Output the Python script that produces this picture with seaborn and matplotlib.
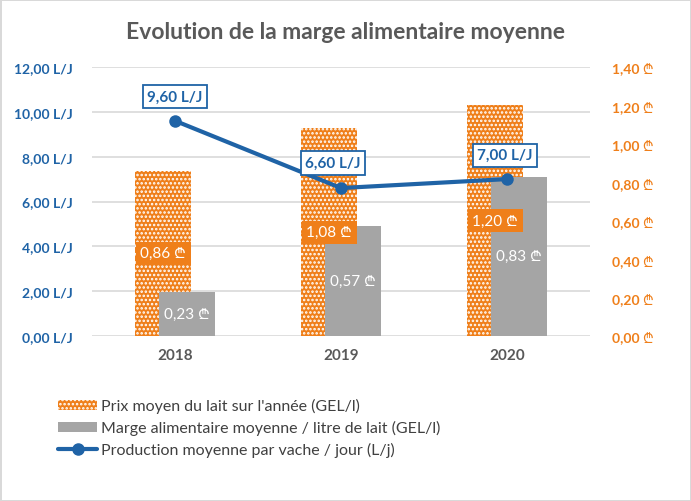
import numpy as np
import pandas as pd
import seaborn as sns
import matplotlib.pyplot as plt
from matplotlib.patches import Patch
from matplotlib.lines import Line2D

# Data
years = [2018, 2019, 2020]
prix_lait = [0.86, 1.08, 1.20]          # GEL/l, right axis
marge = [0.23, 0.57, 0.83]              # GEL/l, right axis
production = [9.60, 6.60, 7.00]         # L/j, left axis
left_ticks = [0, 2, 4, 6, 8, 10, 12]
right_ticks = [0.0, 0.2, 0.4, 0.6, 0.8, 1.0, 1.2, 1.4]

ORANGE = "#EF7F1A"
GRAY = "#A5A5A5"
BLUE = "#1F63A6"
TEXT = "#595959"

sns.set_theme(style="white")
plt.rcParams["font.family"] = ["Lato", "Noto Sans", "DejaVu Sans", "Roboto",
                               "Open Sans", "Liberation Sans", "Noto Sans CJK SC"]
plt.rcParams["hatch.linewidth"] = 1.2


def fr(v, unit):
    return f"{v:.2f}".replace(".", ",") + unit


shift = 0.072
df_prix = pd.DataFrame({"x": [y - shift for y in years], "v": prix_lait})
df_marge = pd.DataFrame({"x": [y + shift for y in years], "v": marge})
df_prod = pd.DataFrame({"x": years, "v": production})

fig = plt.figure(figsize=(6.91, 5.02), dpi=100)
fig.patch.set_edgecolor("#D9D9D9")
fig.patch.set_linewidth(2)

# base axis: left scale (L/J) with gridlines, no data
ax = fig.add_axes([92 / 691, 1 - 337 / 502, (590 - 92) / 691, (337 - 68) / 502])
ax.set_ylim(0, 12)
ax.set_xlim(years[0] - 0.5, years[-1] + 0.5)
ax.set_yticks(left_ticks)
ax.set_yticklabels([fr(t, " L/J") for t in left_ticks])
ax.set_xticks(years)
ax.set_xticklabels([str(y) for y in years])
ax.yaxis.grid(True, color="#D9D9D9", linewidth=1.2)
ax.tick_params(axis="x", colors=TEXT, labelsize=11, length=0, pad=9)
ax.tick_params(axis="y", colors=BLUE, labelsize=10, length=0, pad=14)
for lab in ax.get_xticklabels() + ax.get_yticklabels():
    lab.set_fontweight("bold")
for s in ax.spines.values():
    s.set_visible(False)

# bars on the secondary (right) axis
axb = ax.twinx()
sns.barplot(data=df_prix, x="x", y="v", native_scale=True, width=0.337,
            color=ORANGE, hatch="....", edgecolor="white", linewidth=0,
            saturation=1, ax=axb, zorder=2)
sns.barplot(data=df_marge, x="x", y="v", native_scale=True, width=0.337,
            color=GRAY, linewidth=0, saturation=1, ax=axb, zorder=3)
axb.set_ylim(0, 1.4)
axb.set_xlim(years[0] - 0.5, years[-1] + 0.5)
axb.set_yticks(right_ticks)
axb.set_yticklabels([fr(t, " ₾") for t in right_ticks])
axb.tick_params(axis="y", colors=ORANGE, labelsize=10, length=0, pad=16)
for lab in axb.get_yticklabels():
    lab.set_fontweight("bold")
axb.set_xlabel("")
axb.set_ylabel("")
for s in axb.spines.values():
    s.set_visible(False)

for x, v in zip(df_prix["x"], prix_lait):
    axb.text(x, v / 2, fr(v, " ₾"), ha="center", va="center", color="white",
             fontsize=11, zorder=5,
             bbox=dict(boxstyle="square,pad=0.3", fc=ORANGE, ec="none"))
for x, v in zip(df_marge["x"], marge):
    axb.text(x, v / 2, fr(v, " ₾"), ha="center", va="center", color="white",
             fontsize=11, zorder=5)

# line on the left scale, drawn on top
axl = ax.twinx()
sns.lineplot(data=df_prod, x="x", y="v", color=BLUE, linewidth=3, marker="o",
             markersize=9, markeredgewidth=0, ax=axl)
axl.set_ylim(0, 12)
axl.set_xlim(years[0] - 0.5, years[-1] + 0.5)
axl.set_yticks([])
axl.set_xlabel("")
axl.set_ylabel("")
for s in axl.spines.values():
    s.set_visible(False)

offsets = [(0, 24), (-8, 25), (-2, 24)]
for x, v, off in zip(years, production, offsets):
    axl.annotate(fr(v, " L/J"), (x, v), xytext=off, textcoords="offset pixels",
                 ha="center", va="center", color=BLUE, fontsize=11,
                 fontweight="bold",
                 bbox=dict(boxstyle="square,pad=0.3", fc="white", ec=BLUE, lw=1.3))

fig.text(346 / 691, 1 - 33 / 502, "Evolution de la marge alimentaire moyenne",
         ha="center", va="center", fontsize=16.5, fontweight="bold", color=TEXT)

handles = [
    Patch(facecolor=ORANGE, hatch="....", edgecolor="white", linewidth=0),
    Patch(facecolor=GRAY, linewidth=0),
    Line2D([], [], color=BLUE, linewidth=3, marker="o", markersize=8),
]
labels = [
    "Prix moyen du lait sur l'année (GEL/l)",
    "Marge alimentaire moyenne / litre de lait (GEL/l)",
    "Production moyenne par vache / jour (L/j)",
]
fig.legend(handles, labels, loc="upper left", bbox_to_anchor=(44 / 691, 1 - 385 / 502),
           frameon=False, fontsize=11.5, handlelength=2.4, handleheight=0.6,
           handletextpad=0.25, labelspacing=0.42, labelcolor="#404040")

fig.savefig("out.png", dpi=100)
